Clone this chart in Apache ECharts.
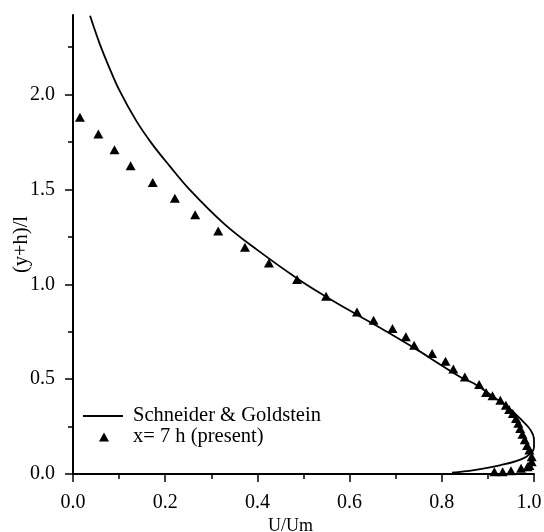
<!DOCTYPE html>
<html>
<head>
<meta charset="utf-8">
<script src="https://cdn.jsdelivr.net/npm/echarts@6/dist/echarts.min.js"></script>
<style>
html,body{margin:0;padding:0;background:#fff;}
#chart{width:544px;height:532px;}
</style>
</head>
<body>
<div id="chart"></div>
<script>
// Schneider & Goldstein curve
var sgU = [0.037,0.058,0.078,0.101,0.137,0.171,0.209,0.251,0.328,0.401,0.487,0.549,0.616,0.667,0.740,0.798,0.841,0.870,0.910,0.943,0.975,0.993,1.0,1.0,0.993,0.972,0.928,0.870,0.822];
var sgY = [2.416,2.268,2.147,2.021,1.863,1.742,1.626,1.505,1.319,1.179,1.03,0.935,0.84,0.77,0.665,0.575,0.51,0.477,0.41,0.354,0.28,0.23,0.18,0.14,0.109,0.077,0.047,0.021,0.007];
// present data x = 7 h
var prU = [0.015,0.055,0.090,0.125,0.173,0.221,0.265,0.315,0.373,0.425,0.486,0.549,0.616,0.652,0.693,0.722,0.740,0.779,0.808,0.825,0.850,0.881,0.896,0.910,0.927,0.939,0.946,0.954,0.961,0.966,0.970,0.975,0.980,0.985,0.990,0.995,0.995,0.990,0.986,0.972,0.950,0.932,0.914];
var prY = [1.881,1.793,1.709,1.625,1.537,1.454,1.367,1.281,1.196,1.112,1.026,0.937,0.854,0.811,0.767,0.723,0.679,0.635,0.594,0.554,0.512,0.472,0.430,0.412,0.389,0.363,0.340,0.319,0.293,0.267,0.240,0.210,0.180,0.150,0.126,0.091,0.065,0.045,0.038,0.030,0.017,0.012,0.012];
var xTicks = [0,0.2,0.4,0.6,0.8,1.0];
var yTicks = [0,0.5,1.0,1.5,2.0];
var yMinorTicks = [0.25,0.75,1.25,1.75,2.25];
var seriesNames = ['Schneider & Goldstein','x= 7 h (present)'];

var FONT = 'Liberation Serif';
var sgData = sgU.map(function(u,i){return [u, sgY[i]];});
var prData = prU.map(function(u,i){return [u, prY[i]];});

var legendText = {fontFamily:FONT,fontSize:20.5,color:'#000',lineHeight:21};

var chart = echarts.init(document.getElementById('chart'), null, {renderer:'canvas'});
chart.setOption({
  animation:false,
  backgroundColor:'#fff',
  textStyle:{fontFamily:FONT,color:'#000'},
  grid:{left:73,right:10,top:15,bottom:58,containLabel:false,outerBoundsMode:'none'},
  legend:[{
    data:[seriesNames[0]],
    orient:'vertical', left:83, top:405.5, padding:0,
    icon:'rect', itemWidth:40, itemHeight:1.8, itemGap:0,
    textStyle:Object.assign({padding:[0,0,0,5]}, legendText),
    selectedMode:false
  },{
    data:[seriesNames[1]],
    orient:'vertical', left:99, top:426.5, padding:0,
    icon:'triangle', itemWidth:10, itemHeight:9, itemGap:0,
    textStyle:Object.assign({padding:[0,0,0,19]}, legendText),
    selectedMode:false
  }],
  xAxis:{
    type:'value', min:0, max:1, interval:0.2,
    name:'U/Um', nameLocation:'middle', nameGap:43, nameMoveOverlap:false,
    nameTextStyle:{fontFamily:FONT,fontSize:18,color:'#000',padding:[0,26,0,0]},
    axisLine:{show:true,onZero:false,lineStyle:{color:'#000',width:2}},
    axisTick:{show:true,inside:false,length:8,lineStyle:{color:'#000',width:1.5},customValues:xTicks},
    minorTick:{show:true,splitNumber:2,length:5,lineStyle:{color:'#000',width:1.5}},
    axisLabel:{fontFamily:FONT,fontSize:20,color:'#000',margin:19,customValues:xTicks,
      formatter:function(v){ return v >= 1 ? '{r|' + v.toFixed(1) + '}' : v.toFixed(1); },
      rich:{r:{fontFamily:FONT,fontSize:20,color:'#000',padding:[0,10,0,0]}}},
    splitLine:{show:false}, minorSplitLine:{show:false}
  },
  yAxis:[{
    type:'value', min:0, max:2.42, interval:0.5,
    name:'(y+h)/l', nameLocation:'middle', nameGap:41, nameRotate:90, nameMoveOverlap:false,
    nameTextStyle:{fontFamily:FONT,fontSize:20.5,color:'#000'},
    axisLine:{show:true,onZero:false,lineStyle:{color:'#000',width:2}},
    axisTick:{show:true,inside:false,length:8,lineStyle:{color:'#000',width:1.5},customValues:yTicks},
    axisLabel:{fontFamily:FONT,fontSize:20,color:'#000',margin:18,customValues:yTicks,
      formatter:function(v){return v.toFixed(1);}},
    splitLine:{show:false}
  },{
    type:'value', min:0, max:2.42, interval:0.25, position:'left', offset:0,
    axisLine:{show:false},
    axisTick:{show:true,inside:false,length:5,lineStyle:{color:'#000',width:1.5},customValues:yMinorTicks},
    axisLabel:{show:false},
    splitLine:{show:false}
  }],
  series:[{
    name:seriesNames[0], type:'line', data:sgData, yAxisIndex:0,
    smooth:0.4, symbol:'none', showSymbol:false,
    lineStyle:{color:'#000',width:1.8}, itemStyle:{color:'#000'}
  },{
    name:seriesNames[1], type:'scatter', data:prData, yAxisIndex:0,
    symbol:'triangle', symbolSize:[10,9],
    itemStyle:{color:'#000',opacity:1}
  }]
});
</script>
</body>
</html>
